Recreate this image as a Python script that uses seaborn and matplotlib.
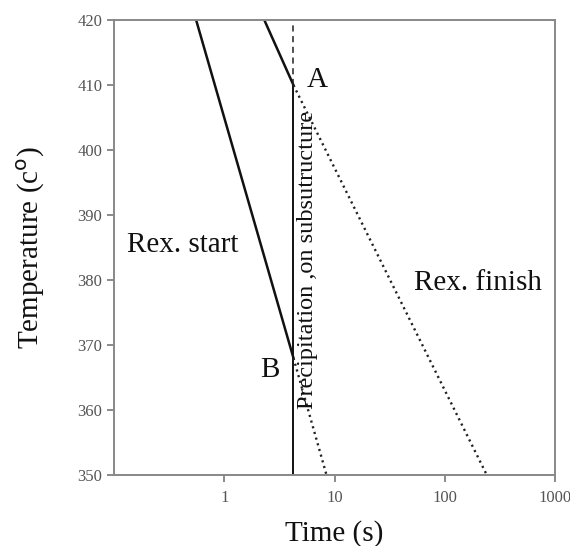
import matplotlib
matplotlib.use("Agg")
import matplotlib.pyplot as plt
import seaborn as sns

# Recrystallisation / precipitation diagram data (time in s, temperature in °C)
rex_start_time = [0.556, 4.24]
rex_start_temp = [420, 368]
upper_start_time = [2.31, 4.24]
upper_start_temp = [420, 410]
precip_time = [4.24, 4.24]
precip_temp_solid = [350, 410]
precip_temp_dashed = [410, 420]
finish_a_time = [4.24, 240]
finish_a_temp = [410, 350]
finish_b_time = [4.24, 8.45]
finish_b_temp = [368, 350]

x_ticks = [1, 10, 100, 1000]
x_tick_labels = ["1", "10", "100", "1000"]
y_ticks = [350, 360, 370, 380, 390, 400, 410, 420]

sns.set_style("ticks")
plt.rcParams["font.family"] = ["Liberation Serif", "DejaVu Serif"]

fig = plt.figure(figsize=(5.7, 5.46), dpi=100)
ax = fig.add_axes([0.2, 0.130, 0.774, 0.833])

common = dict(ax=ax, legend=False, estimator=None, sort=False)
solid_kw = dict(color="#111111", linewidth=1.8, **common)
sns.lineplot(x=rex_start_time, y=rex_start_temp, **solid_kw)
sns.lineplot(x=upper_start_time, y=upper_start_temp, **solid_kw)
sns.lineplot(x=precip_time, y=precip_temp_solid,
             color="#111111", linewidth=1.4, **common)
sns.lineplot(x=precip_time, y=precip_temp_dashed,
             color="#222222", linewidth=1.1, linestyle=(0, (4, 3)), **common)
dot_kw = dict(color="#222222", linewidth=1.7, linestyle=(0, (0.9, 1.6)), **common)
sns.lineplot(x=finish_a_time, y=finish_a_temp, **dot_kw)
sns.lineplot(x=finish_b_time, y=finish_b_temp, **dot_kw)

ax.set_xscale("log")
ax.set_xlim(0.1, 1000)
ax.set_ylim(350, 420)
ax.set_xticks(x_ticks)
ax.set_xticklabels(x_tick_labels)
ax.minorticks_off()
ax.set_yticks(y_ticks)
ax.tick_params(axis="both", colors="#777777", labelcolor="#555555",
               labelsize=12, length=5, width=1.2, direction="out")
ax.tick_params(axis="x", pad=6)

for side in ["left", "right", "top", "bottom"]:
    ax.spines[side].set_visible(True)
    ax.spines[side].set_color("#888888")
    ax.spines[side].set_linewidth(1.4)

ax.set_xlabel("Time (s)", fontsize=21, labelpad=10, color="#111111")
ax.set_ylabel("Temperature (c$^{\\rm o}$)", fontsize=21, labelpad=22, color="#111111")

ax.text(0.42, 385.4, "Rex. start", fontsize=21, ha="center", va="center", color="#111111")
ax.text(200, 379.5, "Rex. finish", fontsize=21, ha="center", va="center", color="#111111")
ax.text(7.0, 410.8, "A", fontsize=21, ha="center", va="center", color="#111111")
ax.text(2.57, 366.2, "B", fontsize=21, ha="center", va="center", color="#111111")
ax.text(5.7, 383.1, "Precipitation ,on subsutructure", fontsize=17.5, rotation=90,
        ha="center", va="center", color="#111111")

fig.savefig("out.png", dpi=100)
